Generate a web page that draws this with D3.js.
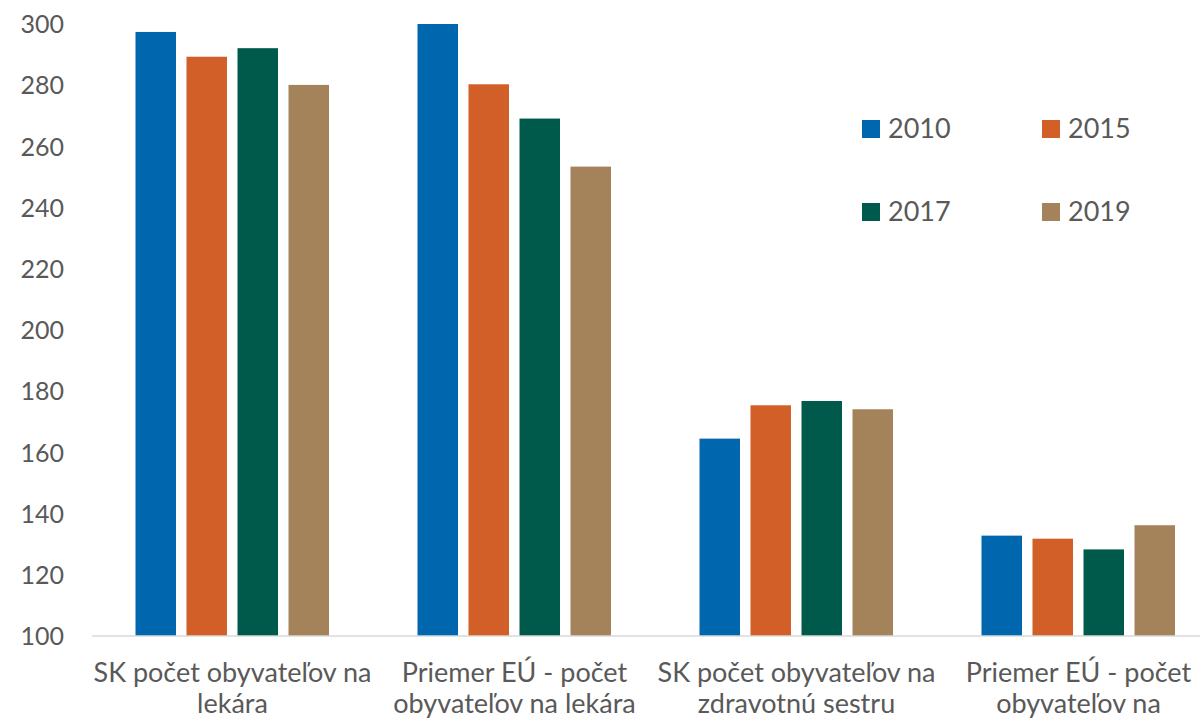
<!DOCTYPE html>
<html><head><meta charset="utf-8">
<script src="https://cdn.jsdelivr.net/npm/d3@7"></script>
<style>
html,body{margin:0;padding:0;background:#fff;overflow:hidden;}
svg{display:block;font-family:Lato, "Open Sans", sans-serif;}
</style></head>
<body>
<svg id="chart" width="1200" height="721"></svg>
<script>
const categories = [
  ["SK počet obyvateľov na", "lekára"],
  ["Priemer EÚ - počet", "obyvateľov na lekára"],
  ["SK počet obyvateľov na", "zdravotnú sestru"],
  ["Priemer EÚ - počet", "obyvateľov na"]
];
const seriesNames = ["2010", "2015", "2017", "2019"];
const values2010 = [297.4, 300.0, 164.5, 132.8];
const values2015 = [289.3, 280.3, 175.4, 131.8];
const values2017 = [292.1, 269.1, 176.8, 128.3];
const values2019 = [280.1, 253.4, 174.1, 136.2];
const yTicks = [100, 120, 140, 160, 180, 200, 220, 240, 260, 280, 300];
const colors = ["#0066AD", "#D25F27", "#005A4B", "#A5835A"];

const seriesValues = [values2010, values2015, values2017, values2019];
const svg = d3.select("#chart");
const textColor = "#595959";

const x0 = d3.scaleBand().domain(d3.range(categories.length)).range([91.5, 1219.5]).padding(0);
const x1 = d3.scaleBand().domain(d3.range(seriesNames.length)).range([44, 237.5]).paddingInner(0.206).paddingOuter(0);
const y = d3.scaleLinear().domain([100, 300]).range([636, 24]);

// y axis labels
const yAxis = d3.axisLeft(y).tickValues(yTicks).tickSize(0).tickPadding(0);
const yg = svg.append("g").attr("transform", "translate(64,0)").call(yAxis);
yg.select(".domain").remove();
yg.selectAll("text").attr("fill", textColor).attr("font-size", 25).attr("font-family", "Lato, 'Open Sans', sans-serif").attr("dy", "0.35em");

// bars
const groups = svg.append("g").selectAll("g").data(categories).join("g")
  .attr("transform", (d, i) => `translate(${x0(i)},0)`);
groups.selectAll("rect").data((d, i) => seriesValues.map((s, j) => ({j, v: s[i]}))).join("rect")
  .attr("x", d => x1(d.j))
  .attr("width", x1.bandwidth())
  .attr("y", d => y(d.v))
  .attr("height", d => y(100) - y(d.v))
  .attr("fill", d => colors[d.j]);

// x axis line
svg.append("line").attr("x1", 92).attr("x2", 1200).attr("y1", 636).attr("y2", 636)
  .attr("stroke", "#D9D9D9").attr("stroke-width", 1.5);

// x labels
const xl = svg.append("g").selectAll("text").data(categories).join("text")
  .attr("x", (d, i) => x0(i) + x0.bandwidth() / 2)
  .attr("y", 682)
  .attr("text-anchor", "middle")
  .attr("fill", textColor)
  .attr("font-size", 27);
xl.selectAll("tspan").data(d => d).join("tspan")
  .attr("x", function() { return d3.select(this.parentNode).attr("x"); })
  .attr("dy", (d, k) => k === 0 ? 0 : 31)
  .text(d => d);

// legend
const legPos = [[862, 120], [1042, 120], [862, 203], [1042, 203]];
const leg = svg.append("g").selectAll("g").data(seriesNames).join("g")
  .attr("transform", (d, i) => `translate(${legPos[i][0]},${legPos[i][1]})`);
leg.append("rect").attr("width", 18).attr("height", 18).attr("fill", (d, i) => colors[i]);
leg.append("text").attr("x", 26).attr("y", 18).attr("fill", textColor).attr("font-size", 27).text(d => d);
</script>
</body></html>
